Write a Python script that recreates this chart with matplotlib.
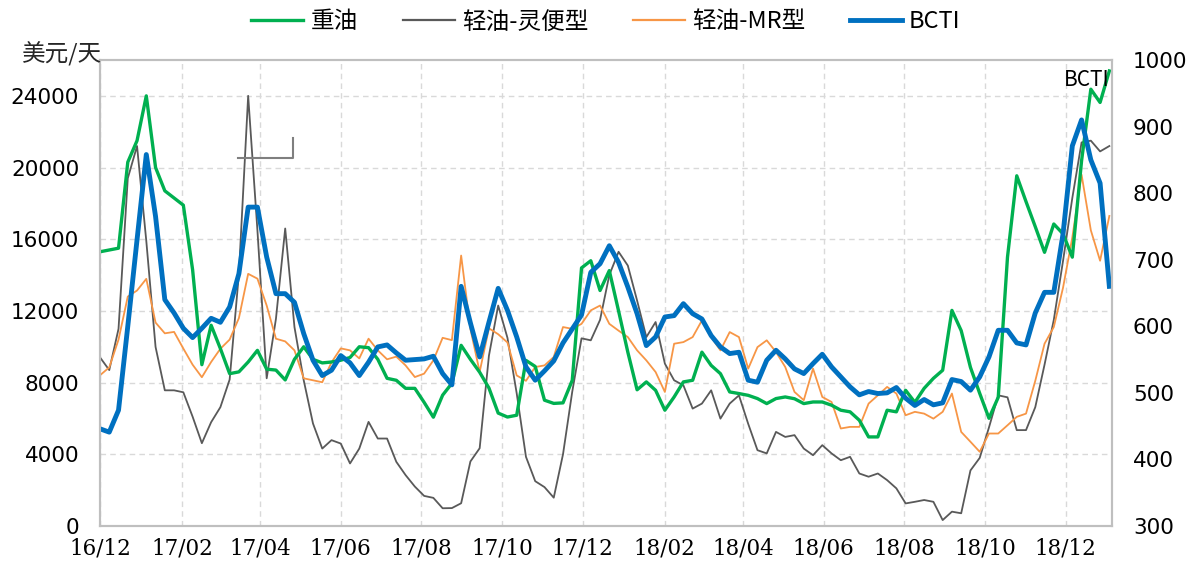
import matplotlib
matplotlib.use("Agg")
import matplotlib.pyplot as plt
import matplotlib.dates as mdates
from matplotlib.lines import Line2D
import pandas as pd

# Weekly series, Dec 2016 - Jan 2019
dates = pd.date_range("2016-12-01", periods=110, freq="7D")

heavy = [  # 重油, USD/day
    15300, 15400, 15500, 20300, 21500, 24000, 20000, 18700, 18300, 17900,
    14300, 9000, 11200, 9900, 8500, 8600, 9150, 9800, 8750, 8700,
    8150, 9300, 10000, 9300, 9100, 9150, 9250, 9400, 10000, 9950,
    9300, 8240, 8130, 7680, 7680, 6900, 6070, 7300, 7960, 10080,
    9300, 8580, 7700, 6300, 6080, 6180, 9240, 8900, 7020, 6840,
    6870, 8130, 14400, 14800, 13140, 14250, 12000, 9700, 7600, 8040,
    7570, 6460, 7200, 8040, 8130, 9700, 8960, 8500, 7480, 7390,
    7290, 7110, 6830, 7110, 7200, 7100, 6830, 6920, 6920, 6740,
    6460, 6370, 5900, 4970, 4970, 6460, 6370, 7570, 6900, 7680,
    8240, 8690, 12030, 10900, 8850, 7400, 6010, 7180, 15000, 19540,
    18100, 16700, 15270, 16850, 16300, 15000, 20380, 24370, 23630, 25390,
]

handy = [  # 轻油-灵便型
    9410, 8700, 11000, 19400, 21200, 15900, 9990, 7570, 7570, 7460,
    6100, 4620, 5790, 6630, 8170, 14070, 24000, 16500, 8240, 11560,
    16600, 11100, 8130, 5720, 4320, 4790, 4600, 3490, 4320, 5810,
    4880, 4880, 3580, 2840, 2200, 1680, 1570, 990, 1000, 1270,
    3600, 4340, 9500, 12300, 10500, 7400, 3860, 2500, 2170, 1580,
    4000, 7500, 10470, 10360, 11500, 14000, 15300, 14530, 12580, 10540,
    11380, 9060, 8130, 7850, 6550, 6830, 7570, 5990, 6830, 7290,
    5700, 4230, 4050, 5250, 4970, 5070, 4320, 3950, 4510, 4050,
    3670, 3860, 2930, 2750, 2930, 2560, 2100, 1260, 1350, 1450,
    1350, 330, 800, 710, 3100, 3800, 5500, 7290, 7180, 5350,
    5350, 6630, 9000, 11500, 14800, 18300, 21400, 21500, 20900, 21200,
]

mr = [  # 轻油-MR型
    8410, 8850, 10400, 12800, 13140, 13790, 11350, 10750, 10830, 9900,
    9000, 8300, 9150, 9890, 10400, 11600, 14070, 13800, 12300, 10450,
    10300, 9800, 8240, 8130, 8020, 9130, 9910, 9800, 9350, 10450,
    9800, 9300, 9450, 8960, 8310, 8500, 9240, 10500, 10370, 15090,
    11000, 8600, 11030, 10700, 10240, 8400, 8100, 8870, 8960, 9430,
    11100, 11000, 11280, 12030, 12300, 11280, 10900, 10540, 9800, 9240,
    8590, 7480, 10170, 10260, 10540, 11470, 10540, 9800, 10820, 10540,
    8780, 9980, 10360, 9710, 8870, 7480, 7020, 8780, 7200, 6920,
    5440, 5530, 5530, 6830, 7290, 7760, 7390, 6180, 6370, 6270,
    5990, 6370, 7390, 5250, 4700, 4140, 5160, 5160, 5620, 6090,
    6270, 8100, 10170, 11100, 13300, 16100, 19600, 16500, 14800, 17300,
]

bcti = [  # BCTI index, right axis
    446, 441, 474, 600, 730, 858, 765, 640, 620, 597,
    583, 597, 612, 606, 629, 679, 779, 779, 704, 649,
    649, 636, 589, 549, 526, 534, 556, 545, 526, 546,
    569, 572, 560, 549, 550, 551, 555, 529, 512, 660,
    605, 554, 606, 657, 624, 584, 539, 519, 533, 548,
    575, 596, 617, 681, 694, 721, 696, 659, 619, 571,
    584, 614, 616, 634, 619, 611, 586, 569, 559, 561,
    519, 516, 549, 564, 551, 536, 529, 544, 558, 539,
    524, 509, 497, 502, 499, 500, 508, 492, 481, 490,
    482, 485, 520, 517, 504, 524, 554, 594, 594, 575,
    572, 620, 651, 651, 739, 871, 910, 850, 815, 660,
]

names = ["重油", "轻油-灵便型", "轻油-MR型", "BCTI"]
colors = ["#00B050", "#595959", "#F79646", "#0070C0"]
CJK = ["Noto Sans CJK SC", "DejaVu Sans"]
W, H = 1194, 565

fig = plt.figure(figsize=(W / 100, H / 100), dpi=100)
ax = fig.add_axes([100 / W, 1 - 526 / H, 1012 / W, 466 / H])
ax2 = ax.twinx()

ax.plot(dates, heavy, color=colors[0], lw=2.4, zorder=3)
ax.plot(dates, handy, color=colors[1], lw=1.3, zorder=2)
ax.plot(dates, mr, color=colors[2], lw=1.3, zorder=2)
ax2.plot(dates, bcti, color=colors[3], lw=3.5)

ax.set_ylim(0, 26000)
ax.set_yticks(range(0, 24001, 4000))
ax2.set_ylim(300, 1000)
ax2.set_yticks(range(300, 1001, 100))
ax.set_xlim(dates[0], dates[-1] + pd.Timedelta(days=2))
ax.xaxis.set_major_locator(mdates.MonthLocator(bymonth=[2, 4, 6, 8, 10, 12]))
ax.xaxis.set_major_formatter(mdates.DateFormatter("%y/%m"))

ax.grid(True, color="#D9D9D9", ls=(0, (4, 3)), lw=1)
ax.set_axisbelow(True)
for a in (ax, ax2):
    for s in a.spines.values():
        s.set_color("#BFBFBF")
        s.set_linewidth(1.5)
ax.tick_params(axis="y", length=0, pad=15, labelsize=15.5, colors="#000000")
ax2.tick_params(axis="y", length=0, pad=15, labelsize=15.5, colors="#000000")
ax.tick_params(axis="x", length=0, pad=8, colors="#000000")
for t in ax.get_xticklabels():
    t.set_family("DejaVu Serif")
    t.set_fontsize(15.5)

# legend across the top
handles = [Line2D([], [], color=colors[0], lw=2.4),
           Line2D([], [], color=colors[1], lw=1.6),
           Line2D([], [], color=colors[2], lw=1.6),
           Line2D([], [], color=colors[3], lw=3.5)]
fig.legend(handles, names, loc="center", bbox_to_anchor=(606 / W, 1 - 22 / H),
           ncol=4, frameon=False, prop={"family": CJK, "size": 17},
           handlelength=2.2, handletextpad=0.3, columnspacing=1.9)

fig.text(22 / W, 1 - 54 / H, "美元/天", family=CJK, fontsize=17,
         ha="left", va="center", color="#262626")
ax.text(0.998, 0.957, "BCTI", transform=ax.transAxes, family=CJK,
        fontsize=15, ha="right", va="center", color="#000000")

# stray leader line left in the original chart
fig.add_artist(Line2D([238 / W, 293 / W, 293 / W],
                      [1 - 158 / H, 1 - 158 / H, 1 - 138 / H],
                      color="#7F7F7F", lw=1.5))

fig.savefig("out.png", dpi=100)
